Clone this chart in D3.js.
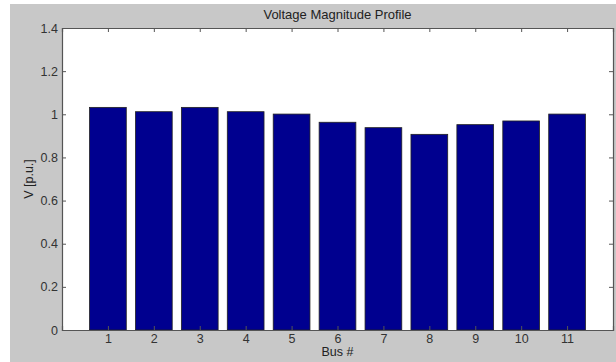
<!DOCTYPE html>
<html><head><meta charset="utf-8">
<script src="https://cdn.jsdelivr.net/npm/d3@7"></script>
<style>html,body{margin:0;padding:0;background:#fff;}svg{display:block;}</style>
</head><body>
<script>
const buses = [1,2,3,4,5,6,7,8,9,10,11];
const voltages = [1.032,1.012,1.032,1.012,1.001,0.963,0.938,0.907,0.952,0.969,1.001];
const yTicks = [0,0.2,0.4,0.6,0.8,1,1.2,1.4];
const yTickLabels = ["0","0.2","0.4","0.6","0.8","1","1.2","1.4"];
const titleText = "Voltage Magnitude Profile";
const xLabel = "Bus #";
const yLabel = "V [p.u.]";

const W = 616, H = 362;
const L = 62, R = 613, T = 28, B = 330;
const svg = d3.select("body").append("svg").attr("width", W).attr("height", H);
svg.append("rect").attr("x",10).attr("y",4).attr("width",W-10).attr("height",H-4).attr("fill","#c8c8c8");
svg.append("rect").attr("x",L).attr("y",T).attr("width",R-L).attr("height",B-T).attr("fill","#fff");

const x = d3.scaleLinear().domain([0,12]).range([L,R]);
const y = d3.scaleLinear().domain([0,1.4]).range([B,T]);
const bw = 0.8*(x(1)-x(0));

svg.append("g").selectAll("rect").data(buses).join("rect")
  .attr("x", (d)=>x(d)-bw/2).attr("width", bw)
  .attr("y", (d,i)=>y(voltages[i])).attr("height", (d,i)=>y(0)-y(voltages[i]))
  .attr("fill","#00008f").attr("stroke","#222").attr("stroke-width",0.8);

const font = "Liberation Sans, Arial, Helvetica, sans-serif";
const tc = "#333";
const xb = svg.append("g").attr("transform",`translate(0,${B})`)
  .call(d3.axisBottom(x).tickValues(buses).tickSize(-4).tickPadding(4).tickFormat(d3.format("d")));
const xt = svg.append("g").attr("transform",`translate(0,${T})`)
  .call(d3.axisTop(x).tickValues(buses).tickSize(-4).tickFormat(""));
const yl = svg.append("g").attr("transform",`translate(${L},0)`)
  .call(d3.axisLeft(y).tickValues(yTicks).tickSize(-4).tickPadding(4).tickFormat((d,i)=>yTickLabels[i]));
const yr = svg.append("g").attr("transform",`translate(${R},0)`)
  .call(d3.axisRight(y).tickValues(yTicks).tickSize(-4).tickFormat(""));
[xb,xt,yl,yr].forEach(g=>{
  g.selectAll(".domain").attr("stroke","#555").attr("stroke-width",1.2);
  g.selectAll(".tick line").attr("stroke","#555");
  g.selectAll("text").attr("fill",tc).style("font-family",font).style("font-size","12.5px");
});
svg.append("text").attr("x",(L+R)/2).attr("y",19).attr("text-anchor","middle")
  .style("font-family",font).style("font-size","13px").attr("fill","#222").text(titleText);
svg.append("text").attr("x",x(6)).attr("y",356).attr("text-anchor","middle")
  .style("font-family",font).style("font-size","12.5px").attr("fill","#222").text(xLabel);
svg.append("text").attr("transform",`translate(33,${(T+B)/2}) rotate(-90)`).attr("text-anchor","middle")
  .style("font-family",font).style("font-size","12.5px").attr("fill","#222").text(yLabel);
</script>
</body></html>
